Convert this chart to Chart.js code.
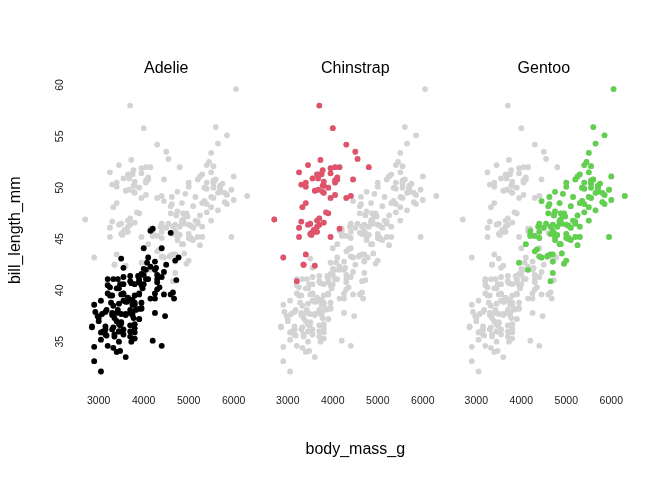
<!DOCTYPE html>
<html>
<head>
<meta charset="utf-8">
<title>bill_length_mm vs body_mass_g</title>
<script src="https://cdn.jsdelivr.net/npm/chart.js@4.4.0/dist/chart.umd.min.js"></script>
<style>
    body { margin: 0; background: #fff; }
    #wrap { position: relative; width: 672px; height: 480px; }
    #wrap canvas { position: absolute; left: 0; top: 0; }
</style>
</head>
<body>
<div id="wrap">
    <canvas id="panel-0" width="672" height="480"></canvas>
    <canvas id="panel-1" width="672" height="480"></canvas>
    <canvas id="panel-2" width="672" height="480"></canvas>
</div>
<script>
var species = ['Adelie', 'Chinstrap', 'Gentoo'];
var speciesColors = ['#000000', '#DF536B', '#61D04F'];
var xTicks = [3000, 4000, 5000, 6000];
var yTicks = [35, 40, 45, 50, 55, 60];

// body_mass_g / bill_length_mm, one pair of arrays per species
var adelieMass = [3750, 3800, 3250, 3450, 3650, 3625, 4675, 3475, 4250, 3300, 3700, 3200, 3800, 4400, 3700, 3450, 4500, 3325, 4200,
    3400, 3600, 3800, 3950, 3800, 3800, 3550, 3200, 3150, 3950,
    3250, 3900, 3300, 3900, 3325, 4150, 3950, 3550, 3300, 4650, 3150, 3900, 3100, 4400, 3000, 4600, 3425, 2975, 3450, 4150,
    3500, 4300, 3450, 4050, 2900, 3700, 3550, 3800, 2850, 3750, 3150, 4400, 3600, 4050, 2850, 3950, 3350, 4100,
    3050, 4450, 3600, 3900, 3550, 4150, 3700, 4250, 3700, 3900, 3550, 4000, 3200, 4700, 3800, 4200,
    3350, 3550, 3800, 3500, 3950, 3600, 3550, 4300, 3400, 4450, 3300, 4300, 3700, 4350, 2900, 4100,
    3725, 4725, 3075, 4250, 2925, 3550, 3750, 3900, 3175, 4775, 3825, 4600, 3200, 4275, 3900, 4075,
    2900, 3775, 3350, 3325, 3150, 3500, 3450, 3875, 3050, 4000, 3275, 4300, 3050, 4000, 3325, 3500,
    3500, 4475, 3425, 3900, 3175, 3975, 3400, 4250, 3400, 3475, 3050, 3725, 3000, 3650, 4250, 3475, 3450, 3750, 3700, 4000];
var adelieBill = [39.1, 39.5, 40.3, 36.7, 39.3, 38.9, 39.2, 34.1, 42.0, 37.8, 37.8, 41.1, 38.6, 34.6, 36.6, 38.7, 42.5, 34.4, 46.0,
    37.8, 37.7, 35.9, 38.2, 38.8, 35.3, 40.6, 40.5, 37.9, 40.5,
    39.5, 37.2, 39.5, 40.9, 36.4, 39.2, 38.8, 42.2, 37.6, 39.8, 36.5, 40.8, 36.0, 44.1, 37.0, 39.6, 41.1, 37.5, 36.0, 42.3,
    39.6, 40.1, 35.0, 42.0, 34.5, 41.4, 39.0, 40.6, 36.5, 37.6, 35.7, 41.3, 37.6, 41.1, 36.4, 41.6, 35.5, 41.1,
    35.9, 41.8, 33.5, 39.7, 39.6, 45.8, 35.5, 42.8, 40.9, 37.2, 36.2, 42.1, 34.6, 42.9, 36.7, 35.1,
    37.3, 41.3, 36.3, 36.9, 38.3, 38.9, 35.7, 41.1, 34.0, 39.6, 36.2, 40.8, 38.1, 40.3, 33.1, 43.2,
    35.0, 41.0, 37.7, 37.8, 37.9, 39.7, 38.6, 38.2, 38.1, 43.2, 38.1, 45.6, 39.7, 42.2, 39.6, 42.7,
    38.6, 37.3, 35.7, 41.1, 36.2, 37.7, 40.2, 41.4, 35.2, 40.6, 38.8, 41.5, 39.0, 44.1, 38.5, 43.1,
    36.8, 37.5, 38.1, 41.1, 35.6, 40.2, 37.0, 39.7, 40.2, 40.6, 32.1, 40.7, 37.3, 39.0, 39.2, 36.6, 36.0, 37.8, 36.0, 41.5];

var chinstrapMass = [3500, 3900, 3650, 3525, 3725, 3950, 3250, 3750, 4150, 3700, 3800, 3775, 3700, 4050, 3575, 4050, 3300, 3700,
    3450, 4400, 3600, 3400, 2900, 3800, 3300, 4150,
    3400, 3800, 3700, 4550, 3200, 4300, 3350, 4100, 3600, 3900, 3850, 4800, 2700, 4500, 3950, 3650, 3550, 3500, 3675, 4450,
    3400, 4300, 3250, 3675, 3325, 3950, 3600, 4050, 3350, 3450, 3250, 4050, 3800, 3525, 3950, 3650, 3650, 4000, 3400, 3775,
    4100, 3775];
var chinstrapBill = [46.5, 50.0, 51.3, 45.4, 52.7, 45.2, 46.1, 51.3, 46.0, 51.3, 46.6, 51.7, 47.0, 52.0, 45.9, 50.5, 50.3, 58.0,
    46.4, 49.2, 42.4, 48.5, 43.2, 50.6, 46.7, 52.0,
    50.5, 49.5, 46.4, 52.8, 40.9, 54.2, 42.5, 51.0, 49.7, 47.5, 47.6, 52.0, 46.9, 53.5, 49.0, 46.2, 50.9, 45.5, 50.9, 50.8,
    50.1, 49.0, 51.5, 49.8, 48.1, 51.4, 45.7, 50.7, 42.5, 52.2, 45.2, 49.3, 50.2, 45.6, 51.9, 46.8, 45.7, 55.8, 43.5, 49.6,
    50.8, 50.2];

var gentooMass = [4500, 5700, 4450, 5700, 5400, 4550, 4800, 5200, 4400, 5150, 4650, 5550, 4650, 5850, 4200, 5850, 4150, 6300,
    4800, 5350, 5700, 5000, 4400, 5050, 5000, 5100, 4100, 5650, 4600, 5550, 5250, 4700, 5050, 6050,
    5150, 5400, 4950, 5250, 4350, 5350, 3950, 5700, 4300, 4750, 5550, 4900, 4200, 5400, 5100, 5300, 4850, 5300, 4400, 5000,
    4900, 5050, 4300, 5000, 4450, 5550, 4200, 5300, 4400, 5650, 4700, 5700, 4650, 5800, 4700, 5550, 4750, 5000, 5100, 5200,
    4700, 5800, 4600, 6000, 4750, 5950,
    4625, 5450, 4725, 5350, 4750, 5600, 4600, 5300, 4875, 5550, 4950, 5400, 4750, 5650, 4850, 5200, 4925, 4875, 4625, 5250,
    4850, 5600, 4975, 5500, 4725, 5500, 4700, 5500, 4575, 5500, 5000, 5950, 4650, 5500, 4375, 5850, 4875, 6000, 4925, 4850,
    5750, 5200, 5400];
var gentooBill = [46.1, 50.0, 48.7, 50.0, 47.6, 46.5, 45.4, 46.7, 43.3, 46.8, 40.9, 49.0, 45.5, 48.4, 45.8, 49.3, 42.0, 49.2,
    46.2, 48.7, 50.2, 45.1, 46.5, 46.3, 42.9, 46.1, 44.5, 47.8, 48.2, 50.0, 47.3, 42.8, 45.1, 59.6,
    49.1, 48.4, 42.6, 44.4, 44.0, 48.7, 42.7, 49.6, 45.3, 49.6, 50.5, 43.6, 45.5, 50.5, 44.9, 45.2, 46.6, 48.5, 45.1, 50.1,
    46.5, 45.0, 43.8, 45.5, 43.2, 50.4, 45.3, 46.2, 45.7, 54.3, 45.8, 49.8, 46.2, 49.5, 43.5, 50.7, 47.7, 46.4, 48.2, 46.5,
    46.4, 48.6, 47.5, 51.1, 45.2, 45.2,
    49.1, 52.5, 47.4, 50.0, 44.9, 50.8, 43.4, 51.3, 47.5, 52.1, 47.5, 52.2, 45.5, 49.5, 44.5, 50.8, 49.4, 46.9, 48.4, 51.1,
    48.5, 55.9, 47.2, 49.1, 47.3, 46.8, 41.7, 53.4, 43.3, 48.1, 50.5, 49.8, 43.5, 51.5, 46.2, 55.1, 44.5, 48.8, 47.2, 46.8,
    50.4, 45.2, 49.9];

var massBySpecies = [adelieMass, chinstrapMass, gentooMass];
var billBySpecies = [adelieBill, chinstrapBill, gentooBill];

// layout (pixels)
var panelLeft = [77.1, 266.2, 454.7];
var panelWidth = 178.2;
var areaTop = 75;
var xAxisHeight = 94.4;
var dotRadius = 2.9;
var fontFamily = '"Liberation Sans", Arial, sans-serif';

function toPoints(k) {
    return massBySpecies[k].map(function(m, j) {
        return { x: m, y: billBySpecies[k][j] };
    });
}

var allPoints = [];
for (var k = 0; k < species.length; k++) {
    allPoints = allPoints.concat(toPoints(k));
}

function tickList(values) {
    return function(scale) {
        scale.ticks = values.map(function(v) { return { value: v }; });
    };
}

function makePanel(i) {
    var first = (i === 0);
    var chart = new Chart(document.getElementById('panel-' + i), {
        type: 'scatter',
        data: {
            datasets: [{
                label: species[i],
                data: toPoints(i),
                backgroundColor: speciesColors[i],
                pointRadius: dotRadius,
                pointHoverRadius: dotRadius,
                borderWidth: 0
            }, {
                label: 'all',
                data: allPoints,
                backgroundColor: '#D3D3D3',
                pointRadius: dotRadius,
                pointHoverRadius: dotRadius,
                borderWidth: 0
            }]
        },
        options: {
            responsive: false,
            animation: false,
            devicePixelRatio: 1,
            events: [],
            layout: {
                padding: {
                    left: first ? 0 : panelLeft[i],
                    right: 672 - panelLeft[i] - panelWidth,
                    top: areaTop - 13.1,
                    bottom: 0
                }
            },
            plugins: {
                legend: { display: false },
                tooltip: { enabled: false },
                title: {
                    display: true,
                    text: species[i],
                    fullSize: false,
                    color: '#000',
                    font: { family: fontFamily, size: 16, weight: 'normal', lineHeight: 0.8 },
                    padding: { top: 0, bottom: 0.3 }
                }
            },
            scales: {
                x: {
                    type: 'linear',
                    position: 'bottom',
                    min: 2520,
                    max: 6480,
                    afterBuildTicks: tickList(xTicks),
                    afterFit: function(s) { s.height = xAxisHeight; },
                    grid: { display: false, drawTicks: false },
                    border: { display: false },
                    ticks: {
                        color: '#1a1a1a',
                        font: { family: fontFamily, size: 10.5 },
                        padding: 9.3,
                        maxRotation: 0,
                        autoSkip: false,
                        callback: function(v) { return String(v); }
                    },
                    title: {
                        display: i === 1,
                        text: 'body_mass_g',
                        color: '#000',
                        font: { family: fontFamily, size: 16 },
                        padding: { top: 0, bottom: 20.4 }
                    }
                },
                y: {
                    type: 'linear',
                    display: first,
                    min: 30.725,
                    max: 60.975,
                    afterBuildTicks: tickList(yTicks),
                    afterFit: function(s) { if (first) s.width = panelLeft[0]; },
                    grid: { display: false, drawTicks: false },
                    border: { display: false },
                    ticks: {
                        color: '#1a1a1a',
                        font: { family: fontFamily, size: 10.5 },
                        padding: 11.2,
                        minRotation: 90,
                        maxRotation: 90,
                        crossAlign: 'center',
                        autoSkip: false,
                        callback: function(v) { return String(v); }
                    },
                    title: {
                        display: true,
                        text: 'bill_length_mm',
                        color: '#000',
                        font: { family: fontFamily, size: 16 },
                        padding: { top: 6.1, bottom: 0 }
                    }
                }
            }
        }
    });
    return chart;
}

var panels = species.map(function(name, i) { return makePanel(i); });
</script>
</body>
</html>
